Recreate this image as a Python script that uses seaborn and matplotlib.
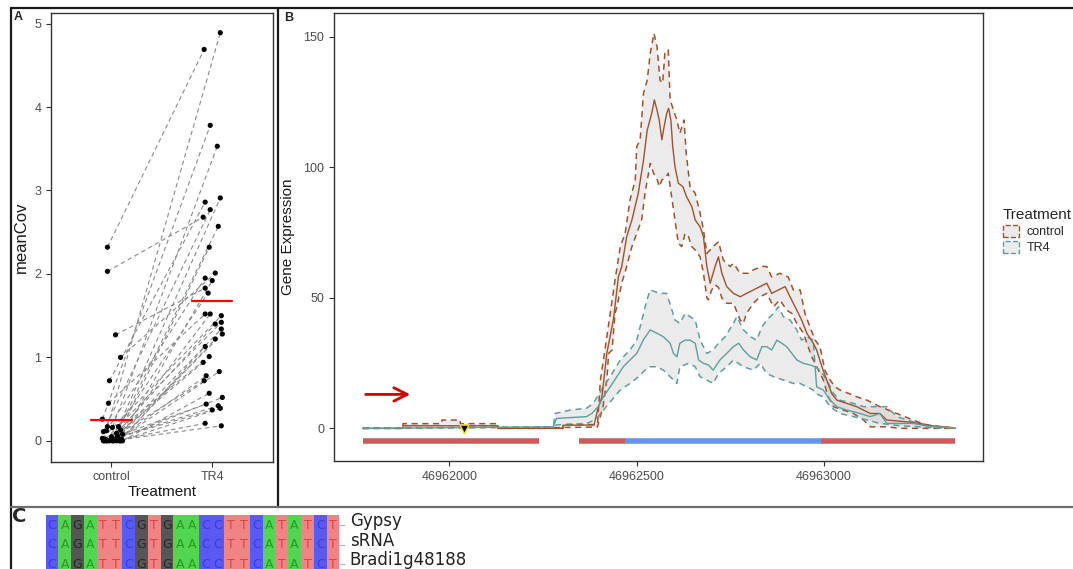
import numpy as np
import pandas as pd
import matplotlib
matplotlib.use('Agg')
import matplotlib.pyplot as plt
import seaborn as sns
from matplotlib.colors import ListedColormap
from matplotlib.lines import Line2D
from matplotlib.patches import Patch
from matplotlib.transforms import ScaledTranslation

sns.set_style('white')
plt.rcParams['font.family'] = ['Liberation Sans', 'DejaVu Sans']

# ==========================================
# DATA - panel A (paired meanCov per sample)
# ==========================================
treatments = ['control', 'TR4']
ctrl_cov = [2.32, 2.03, 1.27, 1.00, 0.72, 0.45, 0.26, 0.17, 0.16, 0.17, 0.11, 0.09, 0.13,
            0.12, 0.08, 0.05, 0.06, 0.03, 0.02, 0.00, 0.00, 0.01, 0.00, 0.02, 0.00, 0.01,
            0.00, 0.03, 0.00, 0.00, 0.01, 0.00, 0.02, 0.00, 0.00, 0.01, 0.00]
ctrl_jit = [-0.04, -0.04, 0.04, 0.09, -0.02, -0.03, -0.09, -0.04, 0.01, 0.07, -0.08, 0.05, 0.09,
            -0.05, 0.11, 0.00, 0.06, -0.09, -0.06, -0.02, 0.02, 0.04, 0.08, 0.10, -0.07, -0.01,
            0.05, 0.07, -0.04, 0.11, 0.03, -0.08, 0.00, 0.09, -0.05, 0.06, 0.01]
tr4_cov = [4.69, 2.68, 1.83, 2.01, 2.86, 1.52, 3.78, 4.89, 3.53, 2.91, 2.77, 2.57, 2.32,
           1.95, 1.92, 1.77, 1.52, 1.50, 1.42, 1.40, 1.34, 1.28, 1.22, 1.13, 1.01, 0.94,
           0.83, 0.78, 0.72, 0.57, 0.52, 0.44, 0.42, 0.39, 0.37, 0.21, 0.18]
tr4_jit = [-0.08, -0.09, -0.07, 0.03, -0.07, -0.07, -0.02, 0.08, 0.05, 0.08, -0.02, 0.06, -0.03,
           -0.07, 0.00, -0.04, -0.02, 0.09, 0.09, 0.03, 0.09, 0.10, 0.03, -0.07, -0.03, -0.09,
           0.07, -0.06, -0.08, -0.03, 0.10, -0.06, 0.06, 0.08, 0.00, -0.07, 0.09]

# ==========================================
# DATA - panel B (coverage, offsets in bp from REF)
# ==========================================
REF = 46962000
ctrl_mean_pos = [-231, -124, -124, 130, 130, 303, 303, 386, 397, 407, 420, 438, 451, 460, 473, 487, 504,
                 518, 528, 540, 547, 555, 560, 567, 573, 580, 585, 591, 596, 602, 611, 623, 633, 647,
                 656, 669, 678, 687, 696, 709, 718, 727, 740, 758, 776, 793, 811, 829, 847, 860, 878,
                 896, 909, 927, 940, 954, 971, 980, 994, 1007, 1020, 1034, 1060, 1087, 1123, 1149,
                 1167, 1220, 1256, 1291, 1344, 1350]
ctrl_mean_val = [0, 0, 1.0, 1.0, 0, 0, 1.2, 1.3, 8, 12, 28.7, 42, 58, 62, 73.4, 79.8, 90,
                 102.8, 114.3, 120.7, 125.8, 121.3, 118, 110.5, 115.6, 120.7, 122.6, 118, 107.9, 100.2,
                 93.9, 92.6, 88.7, 84.9, 79.8, 77.2, 73.4, 62, 55.6, 62, 65.7, 59.4, 54.3, 51.7, 50.4,
                 51.7, 53, 54.3, 55.6, 51.7, 53, 54.3, 50.4, 45.3, 41.5, 36.4, 32.6, 30, 23.6, 18.5,
                 13.4, 10.8, 9.6, 8.3, 5.7, 5.7, 3.2, 2.5, 1.9, 0.9, 0.2, 0]
ctrl_up_pos = [-231, -124, -124, -20, -20, 29, 29, 130, 130, 303, 303, 395, 403, 415, 442, 456, 469,
               482, 496, 500, 509, 518, 528, 536, 546, 554, 562, 569, 575, 584, 589, 598, 607, 615,
               626, 632, 642, 656, 669, 678, 687, 704, 718, 731, 749, 758, 776, 798, 811, 834, 847,
               860, 882, 904, 918, 936, 949, 962, 976, 989, 1002, 1016, 1029, 1042, 1065, 1087,
               1114, 1131, 1149, 1194, 1237, 1274, 1344, 1350]
ctrl_up_val = [0, 0, 1.8, 1.8, 3.2, 3.2, 1.8, 1.8, 0, 0, 1.5, 1.5, 18.5, 30, 56.8, 69.6, 74.7,
               87.5, 95.1, 107.9, 110.5, 128.4, 133.4, 143.7, 151.3, 146.2, 133.4, 132.2, 143.7, 145,
               125.8, 122, 118.1, 113, 118.1, 105.4, 92.6, 90, 82.4, 76, 67, 69.6, 71.5, 64.5, 62,
               63.2, 59.4, 59.4, 60.7, 62, 62, 58, 59.4, 58, 53, 53, 44, 38.9, 33.8, 31.3, 22.3,
               18.5, 15.9, 14.7, 13.4, 12.1, 10.8, 9.6, 8.3, 5.7, 3.2, 1.3, 0.2, 0]
ctrl_lo_pos = [-231, -124, -124, 130, 130, 395, 410, 420, 425, 434, 442, 447, 460, 473, 487, 500,
               513, 522, 528, 536, 545, 555, 560, 567, 578, 584, 593, 602, 611, 620, 629, 638, 647,
               656, 669, 678, 687, 691, 700, 709, 718, 727, 740, 758, 776, 784, 793, 811, 829, 847,
               865, 882, 900, 914, 927, 945, 954, 967, 985, 998, 1011, 1025, 1051, 1078, 1105,
               1123, 1167, 1202, 1350]
ctrl_lo_val = [0, 0, 0.3, 0.3, 0, 0.5, 8.3, 18.5, 28.7, 30, 44, 46.6, 55.6, 62, 69.6, 74.7,
               79.8, 90, 95.1, 101.5, 97.7, 95.1, 92.6, 95.1, 96.4, 97.7, 88.7, 79.8, 70.9, 69.6,
               74.7, 73.4, 69.6, 68.3, 65.7, 59.4, 50, 49.2, 53, 55, 54, 50, 47.9, 47.9, 41.5, 40.2,
               44, 47.9, 50.4, 51.7, 46.6, 49.2, 45.3, 44, 40.2, 36.4, 32.6, 27.4, 22.3, 18.5, 12.1,
               8.3, 7, 5.7, 3.2, 0.6, 0.6, 0, 0]
tr4_mean_pos = [-231, 277, 282, 286, 366, 380, 397, 411, 429, 447, 464, 482, 500, 518, 536, 554,
                571, 589, 598, 607, 615, 629, 642, 656, 665, 678, 691, 704, 722, 740, 758, 772, 785,
                803, 820, 834, 847, 860, 874, 887, 900, 914, 927, 945, 962, 976, 980, 998, 1016,
                1034, 1060, 1096, 1123, 1149, 1167, 1237, 1274, 1344, 1350]
tr4_mean_val = [0, 0.6, 2.5, 3.8, 4.5, 5.7, 8.3, 12.1, 15.9, 19.8, 23.6, 26.2, 28.7, 34, 37.7, 36.4,
                35.1, 32.6, 28.7, 27.4, 32.6, 33.8, 33.8, 32.6, 26.2, 24.9, 24.3, 22.3, 26.2, 28.7,
                31.3, 32.6, 30, 27.4, 26.2, 31.3, 31.3, 30, 33.8, 32.6, 31.3, 28.7, 26.2, 24.9, 24.3,
                23.6, 15.9, 14.7, 10.8, 8.3, 7, 5.7, 4.5, 5.7, 1.9, 1.9, 0.9, 0.2, 0]
tr4_up_pos = [-231, 277, 282, 322, 366, 384, 411, 429, 456, 482, 500, 518, 527, 536, 562, 580, 594,
              602, 615, 629, 642, 656, 669, 687, 704, 718, 736, 758, 767, 785, 803, 820, 834, 847,
              865, 878, 891, 909, 927, 940, 954, 971, 976, 989, 1007, 1025, 1042, 1078, 1105, 1167,
              1194, 1237, 1274, 1344, 1350]
tr4_up_val = [0, 0.6, 5.7, 7, 7.7, 9.6, 15.9, 19.8, 26.2, 30, 33.8, 44, 49.2, 53, 51.7, 51.7, 45.3,
              41.5, 40.2, 44, 42.8, 41.5, 33.8, 28.7, 30, 32.6, 35.1, 40.2, 42.8, 37.7, 35.1, 33.8,
              38.9, 41.5, 44, 46.6, 42.8, 41.5, 37.7, 33.8, 35.1, 33.8, 23.6, 22.3, 18.5, 13.4, 10.8,
              9.6, 8.3, 8.3, 4.5, 2.5, 0.9, 0.2, 0]
tr4_lo_pos = [-231, 277, 286, 366, 389, 411, 433, 456, 482, 505, 522, 536, 554, 571, 589, 607, 615,
              638, 656, 669, 687, 704, 718, 740, 758, 785, 811, 829, 847, 865, 891, 918, 936, 954,
              971, 976, 998, 1016, 1042, 1078, 1114, 1149, 1202, 1282, 1350]
tr4_lo_val = [0, 0.6, 1.3, 1.9, 3.2, 7, 10.8, 14.7, 17.2, 19.8, 22.3, 23.6, 23.6, 22.3, 19.8, 17.2,
              23.6, 24.9, 23.6, 19.8, 18.5, 17.2, 21, 23.6, 26.2, 23.6, 22.3, 24.9, 21, 19.8, 18.5,
              17.2, 17.2, 15.9, 14.7, 13.4, 12.1, 8.3, 5.7, 4.5, 3.2, 1.9, 1.0, 0.3, 0]

# gene model track under the coverage
gene_start = [-231, 346, 469, 992]
gene_end = [240, 469, 992, 1350]
gene_part = ['flank', 'flank', 'gene', 'flank']
arrow_from, arrow_to, arrow_level = -231, -97, 13
srna_pos = 40

# ==========================================
# DATA - panel C (alignment)
# ==========================================
seq_names = ['Gypsy', 'sRNA', 'Bradi1g48188']
seqs = ['CAGATTCGTGAACCTTCATATCT', 'CAGATTCGTGAACCTTCATATCT', 'CAGATTCGTGAACCTTCATATCT']

# ==========================================
# STYLE
# ==========================================
W, H = 1073, 569
BROWN = '#a0522d'
TEAL = '#5f9ea0'
GENE_Y = -5
part_colors = {'flank': '#cd5c5c', 'gene': '#6495ed'}
base_order = ['C', 'A', 'G', 'T']
base_bg = ['#5a5af2', '#52d652', '#565656', '#f08484']
base_fg = {'C': '#3a3ae0', 'A': '#259a25', 'G': '#262626', 'T': '#d84444'}


def fx(px):
    return px / W


def fy(py):
    return 1 - py / H


fig = plt.figure(figsize=(W / 100, H / 100), dpi=100)
axA = fig.add_axes([fx(51), fy(461.7), (272.7 - 51) / W, (461.7 - 12.7) / H])
axB = fig.add_axes([fx(334), fy(461), (983 - 334) / W, (461 - 12.7) / H])
axC = fig.add_axes([fx(45.7), fy(574), (339.3 - 45.7) / W, (574 - 515.3) / H])

tick_kw = dict(direction='out', length=3.5, width=0.8, color='#333333', bottom=True, left=True,
               labelsize=9, labelcolor='#4d4d4d')

# ---------- panel A ----------
n = len(ctrl_cov)
long = pd.DataFrame({
    'pair': np.tile(np.arange(n), 2),
    'Treatment': np.repeat(treatments, n),
    'x': np.r_[np.array(ctrl_jit), 1 + np.array(tr4_jit)],
    'meanCov': np.r_[ctrl_cov, tr4_cov],
})
sns.lineplot(data=long, x='x', y='meanCov', units='pair', estimator=None, sort=False,
             color='#8a8a8a', lw=0.8, linestyle=(0, (4, 3)), ax=axA)
sns.scatterplot(data=long, x='x', y='meanCov', color='black', s=14, edgecolor='none',
                ax=axA, zorder=3)
means = long.groupby('Treatment', sort=False)['meanCov'].mean()
for i, t in enumerate(treatments):
    axA.plot([i - 0.2, i + 0.2], [means[t], means[t]], color='red', lw=1.6, zorder=4)

axA.set_xlim(-0.6, 1.6)
axA.set_ylim(-0.25, 5.13)
axA.set_xticks([0, 1])
axA.set_xticklabels(treatments)
axA.set_yticks(range(6))
axA.set_xlabel('Treatment', fontsize=11, color='#1a1a1a', labelpad=1)
axA.set_ylabel('meanCov', fontsize=12, color='#1a1a1a', labelpad=4)
axA.tick_params(**tick_kw)

# ---------- panel B ----------
series = [
    (ctrl_up_pos, ctrl_up_val, ctrl_lo_pos, ctrl_lo_val, ctrl_mean_pos, ctrl_mean_val, BROWN),
    (tr4_up_pos, tr4_up_val, tr4_lo_pos, tr4_lo_val, tr4_mean_pos, tr4_mean_val, TEAL),
]
for up_x, up_y, lo_x, lo_y, m_x, m_y, col in series:
    px = REF + np.r_[up_x, lo_x[::-1]]
    py = np.r_[up_y, lo_y[::-1]]
    axB.fill(px, py, color='#bdbdbd', alpha=0.3, lw=0, zorder=1)
for up_x, up_y, lo_x, lo_y, m_x, m_y, col in series:
    for bx, by in [(up_x, up_y), (lo_x, lo_y)]:
        sns.lineplot(x=REF + np.array(bx), y=by, sort=False, estimator=None, color=col,
                     lw=1.1, linestyle=(0, (4, 3)), ax=axB, zorder=2)
    sns.lineplot(x=REF + np.array(m_x), y=m_y, sort=False, estimator=None, color=col,
                 lw=1.0, ax=axB, zorder=3)

axB.hlines(y=np.full(len(gene_start), GENE_Y), xmin=REF + np.array(gene_start),
           xmax=REF + np.array(gene_end), colors=[part_colors[p] for p in gene_part], lw=4)
axB.annotate('', xy=(REF + arrow_to, arrow_level), xytext=(REF + arrow_from, arrow_level),
             arrowprops=dict(arrowstyle='->', color='#d40000', lw=2, mutation_scale=24))
axB.scatter([REF + srna_pos], [-0.3], marker='v', s=40, c='black', edgecolors='#ffd700',
            linewidths=1, zorder=5)

axB.set_xlim(REF - 308, REF + 1424)
axB.set_ylim(-12.5, 159.2)
axB.set_xticks([REF, REF + 500, REF + 1000])
axB.set_xticklabels([str(REF), str(REF + 500), str(REF + 1000)])
axB.set_yticks([0, 50, 100, 150])
axB.set_xlabel('')
axB.set_ylabel('Gene Expression', fontsize=11, color='#1a1a1a', labelpad=6)
axB.tick_params(**tick_kw)

for ax in (axA, axB):
    for s in ax.spines.values():
        s.set_visible(True)
        s.set_color('#333333')
        s.set_linewidth(1.0)

handles = [Patch(facecolor='#ebebeb', edgecolor=BROWN, linestyle='--', lw=1),
           Patch(facecolor='#ebebeb', edgecolor=TEAL, linestyle='--', lw=1)]
fig.legend(handles, treatments, title='Treatment', loc='upper left',
           bbox_to_anchor=(fx(998), fy(203)), frameon=False, fontsize=9, title_fontsize=11,
           handlelength=1.3, handleheight=1.2, handletextpad=0.6, labelspacing=0.2,
           borderaxespad=0, alignment='left')

# ---------- panel C ----------
codes = np.array([[base_order.index(ch) for ch in s] for s in seqs])
letters = np.array([list(s) for s in seqs])
sns.heatmap(codes, cmap=ListedColormap(base_bg), vmin=-0.5, vmax=3.5, annot=letters, fmt='',
            cbar=False, linewidths=0, xticklabels=False, yticklabels=seq_names, ax=axC,
            annot_kws={'fontsize': 9, 'family': 'DejaVu Sans'})
for t in axC.texts:
    t.set_color(base_fg[t.get_text()])
axC.yaxis.tick_right()
axC.tick_params(axis='y', right=True, left=False, length=4, width=0.8, color='#bbbbbb',
                labelsize=12, labelcolor='#222222', rotation=0, pad=3.5)
lift = ScaledTranslation(0, 0.06, fig.dpi_scale_trans)
for lab in axC.get_yticklabels():
    lab.set_family('DejaVu Sans')
    lab.set_transform(lab.get_transform() + lift)

# ---------- frame and panel tags ----------
frame = [((11, 7.5), (1073, 7.5), '#1a1a1a'), ((11, 7.5), (11, 569), '#1a1a1a'),
         ((278, 7.5), (278, 507), '#1a1a1a'), ((11, 507), (1073, 507), '#6e6e6e')]
for (x0, y0), (x1, y1), c in frame:
    fig.add_artist(Line2D([fx(x0), fx(x1)], [fy(y0), fy(y1)], color=c, lw=1.6))
fig.text(fx(18), fy(17), 'A', fontsize=9, weight='bold', ha='center', va='center')
fig.text(fx(289), fy(18), 'B', fontsize=9, weight='bold', ha='center', va='center')
fig.text(fx(19), fy(517), 'C', fontsize=14, weight='bold', ha='center', va='center',
         family='DejaVu Sans')

fig.savefig('out.png', dpi=100)
